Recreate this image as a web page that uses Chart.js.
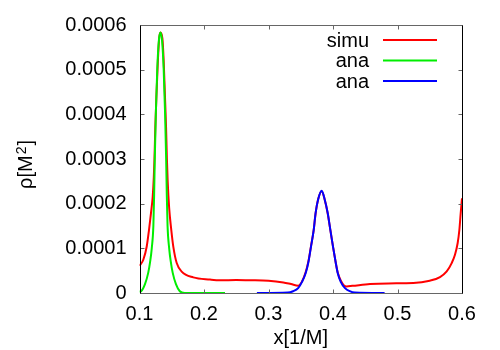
<!DOCTYPE html>
<html>
<head>
<meta charset="utf-8">
<script src="https://cdn.jsdelivr.net/npm/chart.js@4/dist/chart.umd.min.js"></script>
<style>
  html, body { margin: 0; padding: 0; background: #fff; }
  #wrap { width: 500px; height: 350px; }
</style>
</head>
<body>
<div id="wrap"><canvas id="chart" width="500" height="350"></canvas></div>
<script>
// ===== data =====
const seriesNames = ["simu", "ana", "ana"];
const seriesColors = ["#ff0000", "#00ee00", "#0000ff"];

const redX = [0.100, 0.1059, 0.1112, 0.1147, 0.1178, 0.1205, 0.1222, 0.1232, 0.1245, 0.1262, 0.1285, 0.1305, 0.1325, 0.1355,
  0.1375, 0.1395, 0.1412, 0.1425, 0.1437, 0.146, 0.1493, 0.1524, 0.1577, 0.1654, 0.1834, 0.2093, 0.2248, 0.25, 0.27, 0.30,
  0.323, 0.335, 0.346, 0.352, 0.3577, 0.362, 0.3659, 0.370, 0.373, 0.377, 0.3825, 0.387, 0.3918, 0.396, 0.400, 0.404,
  0.4073, 0.412, 0.417, 0.421, 0.43, 0.4574, 0.4857, 0.5245, 0.55, 0.5659, 0.5763, 0.584, 0.5891, 0.5933, 0.5959, 0.598, 0.600];
const redY = [0.000061, 0.0000745, 0.000104, 0.000141, 0.000179, 0.000216, 0.00026, 0.0003, 0.00037, 0.00044, 0.00052, 0.00057, 0.000583, 0.00057,
  0.00052, 0.00044, 0.00037, 0.0003, 0.00025, 0.00019, 0.000141, 0.000104, 0.000067, 0.000048, 0.000035, 0.00003, 0.0000283, 0.000029, 0.0000285, 0.0000275,
  0.0000237, 0.00002, 0.0000165, 0.000026, 0.000047, 0.000072, 0.000105, 0.00014, 0.000178, 0.00021, 0.000228, 0.00021, 0.000178, 0.00014, 0.000104, 0.00007,
  0.000046, 0.000028, 0.000017, 0.0000148, 0.000016, 0.00002, 0.0000215, 0.0000223, 0.0000275, 0.0000357, 0.0000483, 0.000067, 0.0000856, 0.000112, 0.000141, 0.000179, 0.000212];

const greenX = [0.100, 0.1025, 0.1085, 0.1135, 0.1165, 0.119, 0.1215, 0.1227, 0.1237, 0.1253, 0.1275, 0.130, 0.1325, 0.135,
  0.1375, 0.1397, 0.1413, 0.1423, 0.1435, 0.146, 0.1485, 0.1515, 0.1565, 0.1625, 0.170, 0.200, 0.2326];
const greenY = [0.000003, 0.000004, 0.00002, 0.000045, 0.00007, 0.0001, 0.00015, 0.00022, 0.0003, 0.0004, 0.0005, 0.000565, 0.000583, 0.000565,
  0.0005, 0.0004, 0.0003, 0.00022, 0.00015, 0.0001, 0.00007, 0.000045, 0.00002, 0.000004, 0, 0, 0];

const blueX = [0.282, 0.330, 0.338, 0.346, 0.352, 0.3577, 0.362, 0.3659, 0.370, 0.373, 0.377, 0.3825, 0.387, 0.3918, 0.396,
  0.400, 0.404, 0.4073, 0.412, 0.4186, 0.426, 0.434, 0.480];
const blueY = [0, 0.000001, 0.000004, 0.000011, 0.000025, 0.0000447, 0.00007, 0.000104, 0.00014, 0.000179, 0.00021, 0.000229, 0.00021, 0.000179, 0.00014,
  0.000104, 0.00007, 0.0000447, 0.000025, 0.000011, 0.000004, 0.000001, 0];

const xTicks = [0.1, 0.2, 0.3, 0.4, 0.5, 0.6];
const yTicks = [0, 0.0001, 0.0002, 0.0003, 0.0004, 0.0005, 0.0006];

const FONT = "'Liberation Sans', Arial, sans-serif";
const toPoints = (xs, ys) => xs.map((x, i) => ({x: x, y: ys[i]}));

// gnuplot style box with inward ticks on all four sides
const framePlugin = {
  id: 'frame',
  afterDraw(chart) {
    const c = chart.ctx, a = chart.chartArea;
    const xs = chart.scales.x, ys = chart.scales.y;
    const tl = 4;
    const L = Math.round(a.left) + 0.5, R = Math.round(a.right) + 0.5;
    const T = Math.round(a.top) + 0.5, B = Math.round(a.bottom) + 0.5;
    c.save();
    c.lineWidth = 1;
    c.strokeStyle = '#666';
    c.beginPath();
    c.moveTo(L, T); c.lineTo(R, T);
    c.moveTo(L, B); c.lineTo(R, B);
    xTicks.forEach(v => {
      const px = Math.round(xs.getPixelForValue(v)) + 0.5;
      c.moveTo(px, B); c.lineTo(px, B - tl);
      c.moveTo(px, T); c.lineTo(px, T + tl);
    });
    yTicks.forEach(v => {
      const py = Math.round(ys.getPixelForValue(v)) + 0.5;
      c.moveTo(L, py); c.lineTo(L + tl, py);
      c.moveTo(R, py); c.lineTo(R - tl, py);
    });
    c.stroke();
    c.strokeStyle = '#000';
    c.beginPath();
    c.moveTo(L, T); c.lineTo(L, B);
    c.moveTo(R, T); c.lineTo(R, B);
    c.stroke();
    c.restore();
  }
};

// legend: label right-aligned, line sample to its right
const keyPlugin = {
  id: 'key',
  afterDraw(chart) {
    const c = chart.ctx;
    c.save();
    c.font = '20px ' + FONT;
    c.textAlign = 'right';
    c.textBaseline = 'middle';
    chart.data.datasets.forEach((ds, i) => {
      const y = 40 + i * 20.5;
      c.fillStyle = '#000';
      c.fillText(ds.label, 369, y + 1);
      c.strokeStyle = ds.borderColor;
      c.lineWidth = 2;
      c.beginPath();
      c.moveTo(383, y); c.lineTo(437, y);
      c.stroke();
    });
    c.restore();
  }
};

// rotated y title with a real superscript
const yTitlePlugin = {
  id: 'ytitle',
  afterDraw(chart) {
    const c = chart.ctx;
    const parts = [['ρ[M', 20, 0], ['2', 14, -6], [']', 20, 0]];
    c.save();
    c.fillStyle = '#000';
    c.textBaseline = 'alphabetic';
    c.textAlign = 'left';
    let w = 0;
    parts.forEach(p => { c.font = p[1] + 'px ' + FONT; w += c.measureText(p[0]).width + 1; });
    c.translate(31.5, 164);
    c.rotate(-Math.PI / 2);
    let x = -w / 2;
    parts.forEach(p => {
      c.font = p[1] + 'px ' + FONT;
      c.fillText(p[0], x, p[2]);
      x += c.measureText(p[0]).width + 1;
    });
    c.restore();
  }
};

const chart = new Chart(document.getElementById('chart').getContext('2d'), {
  type: 'line',
  data: {
    datasets: [
      {label: seriesNames[0], data: toPoints(redX, redY), borderColor: seriesColors[0], order: 3},
      {label: seriesNames[1], data: toPoints(greenX, greenY), borderColor: seriesColors[1], order: 2},
      {label: seriesNames[2], data: toPoints(blueX, blueY), borderColor: seriesColors[2], order: 1}
    ]
  },
  options: {
    responsive: false,
    animation: false,
    events: [],
    layout: {padding: {left: 0, right: 38, top: 25, bottom: 0}},
    elements: {
      line: {borderWidth: 2, cubicInterpolationMode: 'monotone', fill: false},
      point: {radius: 0}
    },
    scales: {
      x: {
        type: 'linear', min: 0.1, max: 0.6,
        afterBuildTicks: s => { s.ticks = xTicks.map(v => ({value: v})); },
        afterFit: s => { s.height = 57; },
        grid: {display: false, drawTicks: false}, border: {display: false},
        ticks: {padding: 9, color: '#000', font: {family: FONT, size: 20}, callback: v => String(+v.toFixed(1))},
        title: {display: true, text: 'x[1/M]', color: '#000', font: {family: FONT, size: 20}, padding: {top: 0, bottom: 0}}
      },
      y: {
        type: 'linear', min: 0, max: 0.0006,
        afterBuildTicks: s => { s.ticks = yTicks.map(v => ({value: v})); },
        afterFit: s => { s.width = 139.5; },
        grid: {display: false, drawTicks: false}, border: {display: false},
        ticks: {padding: 13, color: '#000', font: {family: FONT, size: 20}, callback: v => v === 0 ? '0' : v.toFixed(4)},
        title: {display: false}
      }
    },
    plugins: {legend: {display: false}, tooltip: {enabled: false}}
  },
  plugins: [framePlugin, keyPlugin, yTitlePlugin]
});
</script>
</body>
</html>
